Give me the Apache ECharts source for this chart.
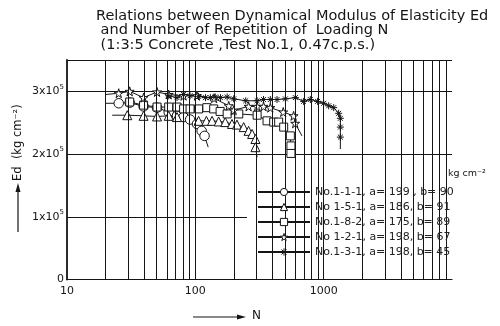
<!DOCTYPE html>
<html>
<head>
<meta charset="utf-8">
<script src="https://cdn.jsdelivr.net/npm/echarts@6/dist/echarts.min.js"></script>
<style>
  html, body { margin: 0; padding: 0; background: #fff; }
  #chart { width: 500px; height: 326px; }
</style>
</head>
<body>
<div id="chart"></div>
<script>
// N (log scale) and Ed (kg/cm2)
const circleN = [25.3, 30.8, 39.5, 50.3, 62, 72, 81, 91, 103, 112, 118];
const circleEd = [281000, 282000, 276000, 274000, 267000, 261000, 259000, 255000, 248000, 237000, 229000];
const circleEnds = [[20, 281000], [126, 211000]];

const triangleN = [29.5, 39.5, 50.3, 62, 72, 106, 122, 135, 152, 171, 193, 211, 238, 260, 277, 294, 294];
const triangleEd = [262000, 261000, 260000, 261000, 259000, 253000, 253000, 253000, 252000, 251000, 248000, 247000, 243000, 237000, 232000, 224000, 211000];
const triangleEnds = [[22.5, 262000], [303, 195000]];

const squareN = [30.8, 39.5, 50.3, 62, 72, 81, 91, 106, 123, 139, 156, 177, 218, 303, 362, 408, 446, 488, 550, 556, 556];
const squareEd = [283000, 278000, 275000, 275000, 275000, 272000, 272000, 272000, 274000, 272000, 268000, 264000, 264000, 262000, 253000, 251000, 251000, 243000, 229000, 213000, 201000];
const squareEnds = [null, null];

const starN = [25.3, 30.8, 39.5, 50.3, 62, 81, 103, 140, 182, 199, 260, 303, 340, 384, 484, 583, 600];
const starEd = [297000, 300000, 290000, 299000, 295000, 293000, 293000, 289000, 277000, 270000, 276000, 276000, 276000, 274000, 267000, 261000, 249000];
const starEnds = [[20, 295000], [677, 229000]];

const asteriskN = [62, 72, 81, 91, 106, 120, 131, 143, 157, 177, 199, 247, 303, 340, 384, 433, 503, 602, 698, 787, 897, 1000, 1094, 1197, 1309, 1349, 1349, 1349];
const asteriskEd = [293000, 290000, 295000, 293000, 292000, 290000, 290000, 291000, 290000, 291000, 288000, 285000, 285000, 287000, 287000, 287000, 288000, 290000, 284000, 287000, 284000, 281000, 277000, 274000, 265000, 257000, 243000, 227000];
const asteriskEnds = [null, [1349, 208000]];

const seriesNames = [
  'No.1-1-1, a= 199 , b= 90',
  'No 1-5-1, a= 186, b= 91',
  'No.1-8-2, a= 175, b= 89',
  'No 1-2-1, a= 198, b= 67',
  'No.1-3-1, a= 198, b= 45'
];

const xTickLabels = [10, 100, 1000];
const gridN = [20, 30, 40, 50, 60, 70, 80, 90, 100, 200, 300, 400, 500, 600, 700, 800, 900, 1000,
  2000, 3000, 4000, 5000, 6000, 7000, 8000, 9000];
const yTicks = [0, 100000, 200000, 300000];

const INK = '#151515';
const FONT = 'DejaVu Sans';

const STAR = 'path://M50,0 L61,35 L98,35 L68,57 L79,91 L50,70 L21,91 L32,57 L2,35 L39,35 Z';
const ASTERISK = 'path://M0,5 L10,5 M5,0 L5,10 M1.5,1.5 L8.5,8.5 M8.5,1.5 L1.5,8.5';

function build(ns, eds, ends) {
  const pts = ns.map((n, i) => [n, eds[i]]);
  if (ends[0]) pts.unshift({ value: ends[0], symbol: 'none' });
  if (ends[1]) pts.push({ value: ends[1], symbol: 'none' });
  return pts;
}

function lineSeries(name, data, symbol, size, fill) {
  return {
    name,
    type: 'line',
    data,
    symbol,
    symbolSize: size,
    showSymbol: true,
    showAllSymbol: true,
    lineStyle: { color: INK, width: 1 },
    itemStyle: { color: fill, borderColor: INK, borderWidth: 1 },
    emphasis: { disabled: true }
  };
}

const chart = echarts.init(document.getElementById('chart'));

const series = [
  lineSeries(seriesNames[0], build(circleN, circleEd, circleEnds), 'circle', 9.5, '#fff'),
  lineSeries(seriesNames[1], build(triangleN, triangleEd, triangleEnds), 'triangle', 9, '#fff'),
  lineSeries(seriesNames[2], build(squareN, squareEd, squareEnds), 'rect', 8, '#fff'),
  lineSeries(seriesNames[3], build(starN, starEd, starEnds), STAR, 9, '#fff'),
  lineSeries(seriesNames[4], build(asteriskN, asteriskEd, asteriskEnds), ASTERISK, 7, INK)
];

// vertical grid lines of the log paper
series[0].markLine = {
  silent: true,
  symbol: ['none', 'none'],
  label: { show: false },
  lineStyle: { color: INK, width: 1, type: 'solid' },
  data: gridN.map(v => ({ xAxis: v }))
};

chart.setOption({
  animation: false,
  backgroundColor: '#fff',
  textStyle: { fontFamily: FONT, color: INK },
  title: {
    text: 'Relations between Dynamical Modulus of Elasticity Ed\n and Number of Repetition of  Loading N\n (1:3:5 Concrete ,Test No.1, 0.47c.p.s.)',
    left: 96,
    top: 8.5,
    padding: 0,
    textStyle: { fontFamily: FONT, fontSize: 14.5, fontWeight: 'normal', color: INK, lineHeight: 14.7 }
  },
  grid: { left: 67, right: 48, top: 60, bottom: 46.5 },
  legend: {
    orient: 'vertical',
    left: 257,
    top: 186.5,
    padding: 0,
    itemWidth: 52,
    itemHeight: 9,
    itemGap: 4,
    z: 6,
    textStyle: { fontFamily: FONT, fontSize: 11, color: '#222' },
    data: seriesNames.map((name, i) => ({
      name,
      itemStyle: { color: i === 4 ? INK : '#fff', borderColor: INK, borderWidth: 1 }
    }))
  },
  xAxis: {
    type: 'log',
    logBase: 10,
    min: 10,
    max: 10000,
    axisLine: { show: true, lineStyle: { color: INK, width: 1.2 } },
    axisTick: { show: false },
    splitLine: { show: false },
    axisLabel: {
      fontFamily: FONT, fontSize: 11, color: INK, margin: 6,
      formatter: v => xTickLabels.includes(Math.round(v)) ? String(Math.round(v)) : ''
    }
  },
  yAxis: {
    type: 'value',
    min: 0,
    max: 350000,
    interval: 100000,
    axisLine: { show: true, lineStyle: { color: INK, width: 1.8 } },
    axisTick: { show: false },
    splitLine: { show: true, lineStyle: { color: INK, width: 1 } },
    axisLabel: {
      margin: 3,
      formatter: v => {
        if (!yTicks.includes(v)) return '';
        if (v === 0) return '{b|0}';
        return '{b|' + (v / 100000) + 'x10}{s|5}';
      },
      rich: {
        b: { fontFamily: FONT, fontSize: 11, color: INK },
        s: { fontFamily: FONT, fontSize: 7, color: INK, verticalAlign: 'top', padding: [0, 0, 9, 0] }
      }
    }
  },
  graphic: [
    // white patch behind the legend, as on the original sheet
    { type: 'rect', left: 247, top: 170, shape: { width: 212, height: 96 }, style: { fill: '#fff' }, z: 3 },
    { type: 'text', left: 448, top: 169, z: 7, style: { text: 'kg cm\u207B\u00B2', font: '9.5px "DejaVu Sans"', fill: INK } },
    // y axis title with arrow
    { type: 'text', x: 18, y: 181, rotation: Math.PI / 2, z: 7,
      style: { text: 'Ed  (kg cm\u207B\u00B2)', font: '11.5px "DejaVu Sans"', fill: INK, align: 'left', verticalAlign: 'middle' } },
    { type: 'line', z: 7, shape: { x1: 18, y1: 232, x2: 18, y2: 188 }, style: { stroke: INK, lineWidth: 1.2 } },
    { type: 'polygon', z: 7, shape: { points: [[18, 183], [15.5, 192], [20.5, 192]] }, style: { fill: INK } },
    // x axis title with arrow
    { type: 'line', z: 7, shape: { x1: 193, y1: 317, x2: 240, y2: 317 }, style: { stroke: INK, lineWidth: 1.2 } },
    { type: 'polygon', z: 7, shape: { points: [[246, 317], [237, 314.5], [237, 319.5]] }, style: { fill: INK } },
    { type: 'text', left: 252, top: 310, z: 7, style: { text: 'N', font: '12px "DejaVu Sans"', fill: INK } }
  ],
  series
});
</script>
</body>
</html>
